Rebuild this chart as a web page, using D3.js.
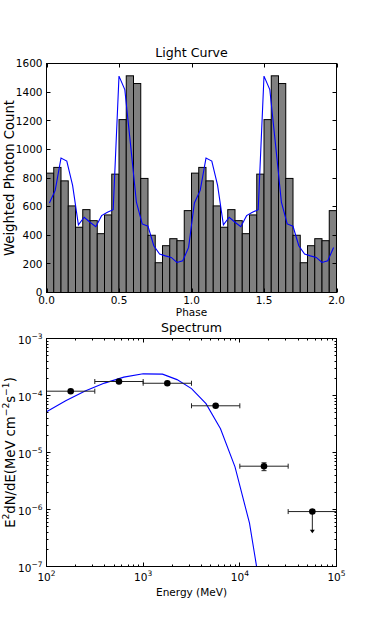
<!DOCTYPE html>
<html><head><meta charset="utf-8">
<script src="https://cdn.jsdelivr.net/npm/d3@7"></script>
<style>body{margin:0;background:#fff}svg{display:block;font-family:"DejaVu Sans",sans-serif}</style>
</head><body><svg id="c" width="374" height="630"></svg>
<script>
// ---------- Light curve data ----------
const binEdges = [0.00,0.05,0.10,0.15,0.20,0.25,0.30,0.35,0.40,0.45,0.50,0.55,0.60,0.65,0.70,0.75,0.80,0.85,0.90,0.95,
                  1.00,1.05,1.10,1.15,1.20,1.25,1.30,1.35,1.40,1.45,1.50,1.55,1.60,1.65,1.70,1.75,1.80,1.85,1.90,1.95,2.00];
const binCounts = [834,874,780,605,456,579,502,411,542,827,1208,1514,1460,797,400,208,327,376,362,572,
                   834,874,780,605,456,579,502,411,542,827,1208,1514,1460,797,400,208,327,376,362,572];
const modelPhase = [0.02,0.06,0.10,0.14,0.18,0.22,0.26,0.30,0.34,0.38,0.42,0.46,0.50,0.54,0.58,0.62,0.66,0.70,0.74,0.78,0.82,0.86,0.90,0.94,0.98,
                    1.02,1.06,1.10,1.14,1.18,1.22,1.26,1.30,1.34,1.38,1.42,1.46,1.50,1.54,1.58,1.62,1.66,1.70,1.74,1.78,1.82,1.86,1.90,1.94,1.98];
const modelCounts = [626,713,939,918,748,472,526,491,460,537,560,579,1512,1418,1030,631,479,463,327,269,256,245,210,222,315,
                     626,713,939,918,748,472,526,491,460,537,560,579,1512,1418,1030,631,479,463,327,269,256,245,210,222,315];
const phaseTicks = [0,0.5,1,1.5,2];
const phaseTickLabels = ["0.0","0.5","1.0","1.5","2.0"];
const countTicks = [0,200,400,600,800,1000,1200,1400,1600];

// ---------- Spectrum data ----------
const sedEnergy = [178,562,1778,5623,17783,56234];
const sedEnergyLo = [100,316,1000,3162,10000,31623];
const sedEnergyHi = [316,1000,3162,10000,31623,100000];
const sedFlux = [1.19e-4,1.76e-4,1.64e-4,6.6e-5,5.75e-6,9.2e-7];
const sedFluxLo = [null,null,null,null,4.8e-6,null];
const sedFluxHi = [null,null,null,null,6.6e-6,null];
const sedUpperLimit = [false,false,false,false,false,true];
const ulArrowTo = 3.85e-7;
const modelEnergy = [100,158,251,398,631,1000,1585,2239,3162,4467,6310,8913,12589,17783];
const modelFlux = [5.2e-5,8.1e-5,1.2e-4,1.65e-4,2.1e-4,2.4e-4,2.37e-4,1.9e-4,1.32e-4,7.2e-5,2.6e-5,5.6e-6,5.75e-7,1.6e-8];
const energyTicks = [1e2,1e3,1e4,1e5];
const energyTickExp = ["2","3","4","5"];
const fluxTicks = [1e-7,1e-6,1e-5,1e-4,1e-3];
const fluxTickExp = ["\u22127","\u22126","\u22125","\u22124","\u22123"];

const svg = d3.select("#c");
const FS = 10.5, SUP = 7.5, YLFS = 13.2, YLSUP = 9.2;

// ================= Light curve =================
const L = 46.5, R = 336.5, T1 = 63.5, B1 = 292.5;
const x1 = d3.scaleLinear().domain([0,2]).range([L,R]);
const y1 = d3.scaleLinear().domain([0,1600]).range([B1,T1]);
const g1 = svg.append("g");

g1.selectAll("rect.bar").data(binCounts).join("rect")
  .attr("x",(d,i)=>x1(binEdges[i]))
  .attr("width",(d,i)=>x1(binEdges[i+1])-x1(binEdges[i]))
  .attr("y",d=>y1(d)).attr("height",d=>y1(0)-y1(d))
  .attr("fill","#808080").attr("stroke","#000").attr("stroke-width",1);

g1.append("path").datum(modelPhase.map((p,i)=>[p,modelCounts[i]]))
  .attr("d",d3.line().x(d=>x1(d[0])).y(d=>y1(d[1])))
  .attr("fill","none").attr("stroke","#0000ff").attr("stroke-width",1.1);

const tk = g1.append("g").attr("stroke","#000").attr("stroke-width",1);
phaseTicks.forEach(t=>{
  const x=Math.round(x1(t))+0.5;
  tk.append("line").attr("x1",x).attr("x2",x).attr("y1",B1).attr("y2",B1-4);
  tk.append("line").attr("x1",x).attr("x2",x).attr("y1",T1).attr("y2",T1+4);
});
countTicks.forEach(t=>{
  const y=Math.round(y1(t)-0.5)+0.5;
  tk.append("line").attr("x1",L).attr("x2",L+4).attr("y1",y).attr("y2",y);
  tk.append("line").attr("x1",R).attr("x2",R-4).attr("y1",y).attr("y2",y);
});
g1.append("rect").attr("x",L).attr("y",T1).attr("width",R-L).attr("height",B1-T1)
  .attr("fill","none").attr("stroke","#000").attr("stroke-width",1);

g1.selectAll("text.xt").data(phaseTicks).join("text")
  .attr("x",d=>x1(d)).attr("y",B1+11.5).attr("text-anchor","middle")
  .attr("font-size",FS).text((d,i)=>phaseTickLabels[i]);
g1.selectAll("text.yt").data(countTicks).join("text")
  .attr("x",L-4).attr("y",d=>y1(d)+3.8).attr("text-anchor","end")
  .attr("font-size",FS).text(d=>d);
g1.append("text").attr("x",(L+R)/2).attr("y",57).attr("text-anchor","middle")
  .attr("font-size",12.6).text("Light Curve");
g1.append("text").attr("x",(L+R)/2).attr("y",316).attr("text-anchor","middle")
  .attr("font-size",FS).text("Phase");
g1.append("text").attr("transform",`translate(13.5,${(T1+B1)/2}) rotate(-90)`)
  .attr("text-anchor","middle").attr("font-size",YLFS).text("Weighted Photon Count");

// ================= Spectrum =================
const T2 = 338.5, B2 = 566.5;
const x2 = d3.scaleLog().domain([1e2,1e5]).range([L,R]);
const y2 = d3.scaleLog().domain([1e-7,1e-3]).range([B2,T2]);
const g2 = svg.append("g");

svg.append("clipPath").attr("id","clip2").append("rect")
  .attr("x",L).attr("y",T2).attr("width",R-L).attr("height",B2-T2);

g2.append("path").datum(modelEnergy.map((e,i)=>[e,modelFlux[i]]))
  .attr("clip-path","url(#clip2)")
  .attr("d",d3.line().x(d=>x2(d[0])).y(d=>y2(d[1])))
  .attr("fill","none").attr("stroke","#0000ff").attr("stroke-width",1.1);

const eb = g2.append("g").attr("stroke","#222").attr("stroke-width",1).attr("fill","none");
sedEnergy.forEach((e,i)=>{
  const y=y2(sedFlux[i]);
  eb.append("line").attr("x1",x2(sedEnergyLo[i])).attr("x2",x2(sedEnergyHi[i])).attr("y1",y).attr("y2",y);
  [sedEnergyLo[i],sedEnergyHi[i]].forEach(v=>{
    if(v>1e2 && v<1e5) eb.append("line").attr("x1",x2(v)).attr("x2",x2(v)).attr("y1",y-2.5).attr("y2",y+2.5);
  });
  if(sedFluxLo[i]!==null){
    const x=x2(e);
    eb.append("line").attr("x1",x).attr("x2",x).attr("y1",y2(sedFluxHi[i])).attr("y2",y2(sedFluxLo[i]));
    [sedFluxHi[i],sedFluxLo[i]].forEach(v=>eb.append("line").attr("x1",x-2.5).attr("x2",x+2.5).attr("y1",y2(v)).attr("y2",y2(v)));
  }
  if(sedUpperLimit[i]){
    const x=x2(e), yt=y2(ulArrowTo);
    eb.append("line").attr("x1",x).attr("x2",x).attr("y1",y).attr("y2",yt-3);
    g2.append("path").attr("d",`M${x-2.5},${yt-3.5}L${x+2.5},${yt-3.5}L${x},${yt}Z`).attr("fill","#000");
  }
});
g2.selectAll("circle").data(sedEnergy).join("circle")
  .attr("cx",d=>x2(d)).attr("cy",(d,i)=>y2(sedFlux[i])).attr("r",3.3).attr("fill","#000");

const tk2 = g2.append("g").attr("stroke","#000").attr("stroke-width",1);
for(let d=2; d<5; d++){
  for(let m=1; m<10; m++){
    const v=m*Math.pow(10,d), x=Math.round(x2(v)-0.5)+0.5, len=m===1?4:2;
    if(m===1 && d===2) continue;
    tk2.append("line").attr("x1",x).attr("x2",x).attr("y1",B2).attr("y2",B2-len);
    tk2.append("line").attr("x1",x).attr("x2",x).attr("y1",T2).attr("y2",T2+len);
  }
}
for(let d=-7; d<-3; d++){
  for(let m=1; m<10; m++){
    const v=m*Math.pow(10,d), y=Math.round(y2(v)-0.5)+0.5, len=m===1?4:2;
    if(m===1 && d===-7) continue;
    tk2.append("line").attr("x1",L).attr("x2",L+len).attr("y1",y).attr("y2",y);
    tk2.append("line").attr("x1",R).attr("x2",R-len).attr("y1",y).attr("y2",y);
  }
}
g2.append("rect").attr("x",L).attr("y",T2).attr("width",R-L).attr("height",B2-T2)
  .attr("fill","none").attr("stroke","#000").attr("stroke-width",1);

energyTicks.forEach((t,i)=>{
  const tx=g2.append("text").attr("x",x2(t)).attr("y",B2+14).attr("text-anchor","middle").attr("font-size",FS);
  tx.append("tspan").text("10");
  tx.append("tspan").attr("font-size",SUP).attr("dy",-4.5).text(energyTickExp[i]);
});
fluxTicks.forEach((t,i)=>{
  const tx=g2.append("text").attr("x",L-4).attr("y",y2(t)+5).attr("text-anchor","end").attr("font-size",FS);
  tx.append("tspan").text("10");
  tx.append("tspan").attr("font-size",SUP).attr("dy",-4.5).text(fluxTickExp[i]);
});
g2.append("text").attr("x",(L+R)/2).attr("y",332).attr("text-anchor","middle")
  .attr("font-size",12.6).text("Spectrum");
g2.append("text").attr("x",(L+R)/2).attr("y",596).attr("text-anchor","middle")
  .attr("font-size",FS).text("Energy (MeV)");
const yl = g2.append("text").attr("transform",`translate(14.5,${(T2+B2)/2}) rotate(-90)`)
  .attr("text-anchor","middle").attr("font-size",YLFS);
yl.append("tspan").text("E");
yl.append("tspan").attr("font-size",YLSUP).attr("dy",-5.5).text("2");
yl.append("tspan").attr("dy",5.5).text("dN/dE(MeV cm");
yl.append("tspan").attr("font-size",YLSUP).attr("dy",-5.5).text("\u22122");
yl.append("tspan").attr("dy",5.5).text("s");
yl.append("tspan").attr("font-size",YLSUP).attr("dy",-5.5).text("\u22121");
yl.append("tspan").attr("dy",5.5).text(")");
</script></body></html>
